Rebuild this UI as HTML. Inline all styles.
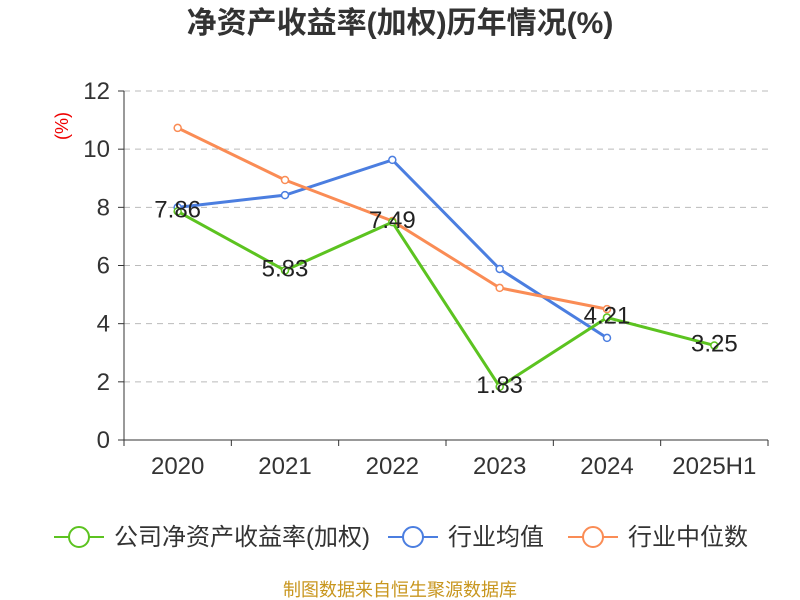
<!DOCTYPE html>
<html><head><meta charset="utf-8"><style>
body{margin:0;background:#fff;}
svg{display:block;font-family:"Liberation Sans","Noto Sans CJK SC",sans-serif;}
</style></head><body>
<svg id="c" width="800" height="600">
<text x="400" y="33" text-anchor="middle" font-size="30" font-weight="bold" fill="#333">净资产收益率(加权)历年情况(%)</text>
<text x="68" y="126" text-anchor="middle" font-size="18" fill="#e00" transform="rotate(-90 68 126)">(%)</text>
<g id="grid"></g><g id="axes"></g><g id="series"></g>
<g font-size="24" fill="#333">
<g><line x1="54" y1="537" x2="104" y2="537" stroke="#5cc320" stroke-width="2"/><circle cx="79" cy="537" r="10" fill="#fff" stroke="#5cc320" stroke-width="2"/><text x="114" y="545">公司净资产收益率(加权)</text></g>
<g><line x1="388" y1="537" x2="438" y2="537" stroke="#4b7ee0" stroke-width="2"/><circle cx="413" cy="537" r="10" fill="#fff" stroke="#4b7ee0" stroke-width="2"/><text x="448" y="545">行业均值</text></g>
<g><line x1="568" y1="537" x2="618" y2="537" stroke="#fa8c55" stroke-width="2"/><circle cx="593" cy="537" r="10" fill="#fff" stroke="#fa8c55" stroke-width="2"/><text x="628" y="545">行业中位数</text></g>
</g>
<text x="400" y="596" text-anchor="middle" font-size="18" fill="#c8961e">制图数据来自恒生聚源数据库</text>
</svg>
<script>
const categories=["2020","2021","2022","2023","2024","2025H1"];
const company=[7.86,5.83,7.49,1.83,4.21,3.25];
const industryAvg=[8.0,8.42,9.63,5.88,3.51];
const industryMedian=[10.73,8.94,7.53,5.23,4.5];
const yTicks=[0,2,4,6,8,10,12];
const NS="http://www.w3.org/2000/svg";
const x0=124,x1=768,y0=440,y1=91;
const bw=(x1-x0)/categories.length;
const X=i=>x0+bw*(i+0.5);
const Y=v=>y0-(v/12)*(y0-y1);
function mk(t,a,p){const e=document.createElementNS(NS,t);for(const k in a)e.setAttribute(k,a[k]);p.appendChild(e);return e;}
const grid=document.getElementById('grid'),axes=document.getElementById('axes'),ser=document.getElementById('series');
yTicks.forEach(v=>{
 if(v>0){const g=mk('line',{x1:x0,x2:x1,y1:Y(v),y2:Y(v),stroke:'#bbb','stroke-dasharray':'6,5'},grid);
 
 }
 mk('line',{x1:x0-6,x2:x0,y1:Y(v),y2:Y(v),stroke:'#333'},axes);
 const t=mk('text',{x:x0-14,y:Y(v)+8,'text-anchor':'end','font-size':24,fill:'#333'},axes);t.textContent=v;
 
 
});
const ya=mk('line',{x1:x0,x2:x0,y1:y1,y2:y0,stroke:'#333'},axes);


const xa=mk('line',{x1:x0,x2:x1,y1:y0,y2:y0,stroke:'#333'},axes);


for(let i=0;i<=categories.length;i++)mk('line',{x1:x0+bw*i,x2:x0+bw*i,y1:y0,y2:y0+6,stroke:'#333'},axes);
categories.forEach((c,i)=>{const t=mk('text',{x:X(i),y:474,'text-anchor':'middle','font-size':24,fill:'#333'},axes);t.textContent=c;
 
 });
function series(d,col,name,labels){
 const g=mk('g',{},ser);
 
 
 mk('polyline',{points:d.map((v,i)=>X(i)+','+Y(v)).join(' '),fill:'none',stroke:col,'stroke-width':3},g);
 d.forEach((v,i)=>{const c=mk('circle',{cx:X(i),cy:Y(v),r:3.5,fill:'#fff',stroke:col,'stroke-width':1.5},g);
  
  
  if(labels){const t=mk('text',{x:X(i),y:Y(v)+6,'text-anchor':'middle','font-size':24,fill:'#222'},g);t.textContent=v.toFixed(2);
   
   }
 });
}
series(company,'#5cc320','company-roe-line',true);
series(industryAvg,'#4b7ee0','industry-avg-line',false);
series(industryMedian,'#fa8c55','industry-median-line',false);
ser.appendChild(ser.firstChild);
</script>
</body></html>
